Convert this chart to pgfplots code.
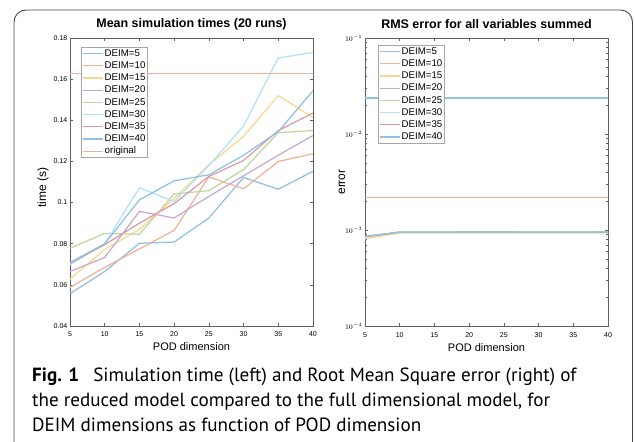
\documentclass[border=0pt]{standalone}
\usepackage{pgfplots}
\pgfplotsset{compat=1.18}
\usepackage{fontspec}
\setmainfont{Liberation Sans}
\newfontfamily\capfont{PT Sans}

% MATLAB default line colours, faded as in the figure
\definecolor{mblue}{rgb}{0,0.447,0.741}
\definecolor{morange}{rgb}{0.85,0.325,0.098}
\definecolor{myellow}{rgb}{0.929,0.694,0.125}
\definecolor{mpurple}{rgb}{0.494,0.184,0.556}
\definecolor{mgreen}{rgb}{0.466,0.674,0.188}
\definecolor{mcyan}{rgb}{0.301,0.745,0.933}
\definecolor{mred}{rgb}{0.635,0.078,0.184}
\colorlet{k1}{mblue!44!white}
\colorlet{k2}{morange!45!white}
\colorlet{k3}{myellow!50!white}
\colorlet{k4}{mpurple!42!white}
\colorlet{k5}{mgreen!48!white}
\colorlet{k6}{mcyan!45!white}
\colorlet{k7}{mred!42!white}

\pgfplotsset{
  legend image code/.code={\draw[#1] (0pt,0pt) -- (20pt,0pt);},
  every axis plot/.append style={line width=1.25pt},
  matlab/.style={
    scale only axis, width=243pt, height=288pt,
    xmin=5, xmax=40, xtick={5,10,...,40},
    tick align=inside, major tick length=3pt, minor tick length=1.8pt,
    axis line style={gray!75!black, line width=0.5pt},
    tick style={gray!75!black, line width=0.5pt},
    tick label style={font=\fontsize{7}{8}\selectfont},
    xticklabel style={anchor=base, yshift=-11pt},
    yticklabel style={inner sep=1pt, xshift=-1.5pt},
    title style={at={(0.5,1)}, anchor=base, yshift=4pt,
      font=\bfseries\fontsize{12.5}{14}\selectfont},
    xlabel={POD dimension},
    xlabel style={at={(axis description cs:0.5,0)}, anchor=base, yshift=-25pt,
      font=\fontsize{11}{13}\selectfont},
    ylabel style={anchor=center, font=\fontsize{12}{14}\selectfont},
    legend cell align=left,
    /pgf/number format/assume math mode=true,
  }
}

\begin{document}
\begin{tikzpicture}
\useasboundingbox (0pt,0pt) rectangle (635pt,442pt);
\draw[gray!55!black, line width=0.9pt, rounded corners=12pt]
  (14pt,-10pt) -- (14pt,432pt) -- (632.5pt,432pt) -- (632.5pt,-10pt);

\begin{axis}[matlab, at={(70pt,116pt)}, anchor=south west,
  ymin=0.04, ymax=0.18, ytick={0.04,0.06,...,0.18},
  yticklabel style={/pgf/number format/fixed, /pgf/number format/precision=2},
  title={Mean simulation times (20 runs)},
  ylabel={time (s)},
  ylabel style={at={(axis description cs:-0.111,0.48)}},
  legend style={at={(0.045,0.969)}, anchor=north west,
    draw=gray!70, line width=0.5pt, inner sep=1.5pt, row sep=2.3pt,
    font=\fontsize{9.7}{11}\selectfont,
    nodes={inner sep=0.8pt, text height=6.8pt, text depth=1.5pt}},
]
\addplot[color=k1] coordinates {(5,0.0557)(10,0.0665)(15,0.0802)(20,0.0808)(25,0.0925)(30,0.1122)(35,0.1065)(40,0.1152)};
\addplot[color=k2] coordinates {(5,0.0588)(10,0.0685)(15,0.0775)(20,0.0865)(25,0.1125)(30,0.1067)(35,0.1200)(40,0.1237)};
\addplot[color=k3] coordinates {(5,0.0628)(10,0.0772)(15,0.0870)(20,0.1020)(25,0.1184)(30,0.1322)(35,0.1520)(40,0.1413)};
\addplot[color=k4] coordinates {(5,0.0665)(10,0.0733)(15,0.0957)(20,0.0925)(25,0.1030)(30,0.1130)(35,0.1230)(40,0.1326)};
\addplot[color=k5] coordinates {(5,0.0778)(10,0.0850)(15,0.0846)(20,0.1042)(25,0.1058)(30,0.1160)(35,0.1340)(40,0.1350)};
\addplot[color=k6] coordinates {(5,0.0698)(10,0.0800)(15,0.1072)(20,0.1005)(25,0.1180)(30,0.1372)(35,0.1703)(40,0.1730)};
\addplot[color=k7] coordinates {(5,0.0705)(10,0.0795)(15,0.0900)(20,0.0995)(25,0.1127)(30,0.1205)(35,0.1350)(40,0.1435)};
\addplot[color=k1] coordinates {(5,0.0708)(10,0.0800)(15,0.1013)(20,0.1106)(25,0.1135)(30,0.1230)(35,0.1345)(40,0.1544)};
\addplot[color=k2] coordinates {(5,0.1627)(10,0.1627)(15,0.1627)(20,0.1627)(25,0.1627)(30,0.1627)(35,0.1627)(40,0.1627)};
\legend{DEIM=5,DEIM=10,DEIM=15,DEIM=20,DEIM=25,DEIM=30,DEIM=35,DEIM=40,original}
\end{axis}

\begin{axis}[matlab, at={(365pt,116pt)}, anchor=south west,
  ymode=log, ymin=1e-4, ymax=1e-1,
  ytick={1e-4,1e-3,1e-2,1e-1},
  title={RMS error for all variables summed},
  ylabel={error},
  ylabel style={at={(axis description cs:-0.095,0.5)}},
  legend style={at={(0.053,0.976)}, anchor=north west,
    draw=gray!70, line width=0.5pt, inner sep=1.5pt, row sep=2.3pt,
    font=\fontsize{9.7}{11}\selectfont,
    nodes={inner sep=0.8pt, text height=6.8pt, text depth=1.5pt}},
]
\addplot[color=k1] coordinates {(5,0.0237)(10,0.0237)(15,0.0237)(20,0.0237)(25,0.0237)(30,0.0237)(35,0.0237)(40,0.0237)};
\addplot[color=k2] coordinates {(5,0.00218)(10,0.00218)(15,0.00218)(20,0.00218)(25,0.00218)(30,0.00218)(35,0.00218)(40,0.00218)};
\addplot[color=k3] coordinates {(5,0.00081)(10,0.00093)(15,0.00093)(20,0.00093)(25,0.00093)(30,0.00093)(35,0.00093)(40,0.00093)};
\addplot[color=k4] coordinates {(5,0.00085)(10,0.00095)(15,0.00095)(20,0.00096)(25,0.00096)(30,0.00095)(35,0.00095)(40,0.00095)};
\addplot[color=k5] coordinates {(5,0.00085)(10,0.00095)(15,0.00095)(20,0.00095)(25,0.00095)(30,0.00095)(35,0.00095)(40,0.00096)};
\addplot[color=k6] coordinates {(5,0.00085)(10,0.00095)(15,0.00095)(20,0.00095)(25,0.00095)(30,0.00095)(35,0.00095)(40,0.00095)};
\addplot[color=k7] coordinates {(5,0.00085)(10,0.00095)(15,0.00095)(20,0.00095)(25,0.00095)(30,0.00095)(35,0.00095)(40,0.00095)};
\addplot[color=k1] coordinates {(5,0.00086)(10,0.00095)(15,0.00095)(20,0.00095)(25,0.00095)(30,0.00095)(35,0.00095)(40,0.00095)};
\legend{DEIM=5,DEIM=10,DEIM=15,DEIM=20,DEIM=25,DEIM=30,DEIM=35,DEIM=40}
\end{axis}

\begin{scope}[every node/.style={anchor=base west, inner sep=0pt,
    font=\capfont\fontsize{19.1}{25}\selectfont}]
\node at (32pt,60pt) {\textbf{Fig. 1}\hspace{9pt} Simulation time (left) and Root Mean Square error (right) of};
\node at (32pt,35pt) {the reduced model compared to the full dimensional model, for};
\node at (32pt,10pt) {DEIM dimensions as function of POD dimension};
\end{scope}
\end{tikzpicture}
\end{document}
